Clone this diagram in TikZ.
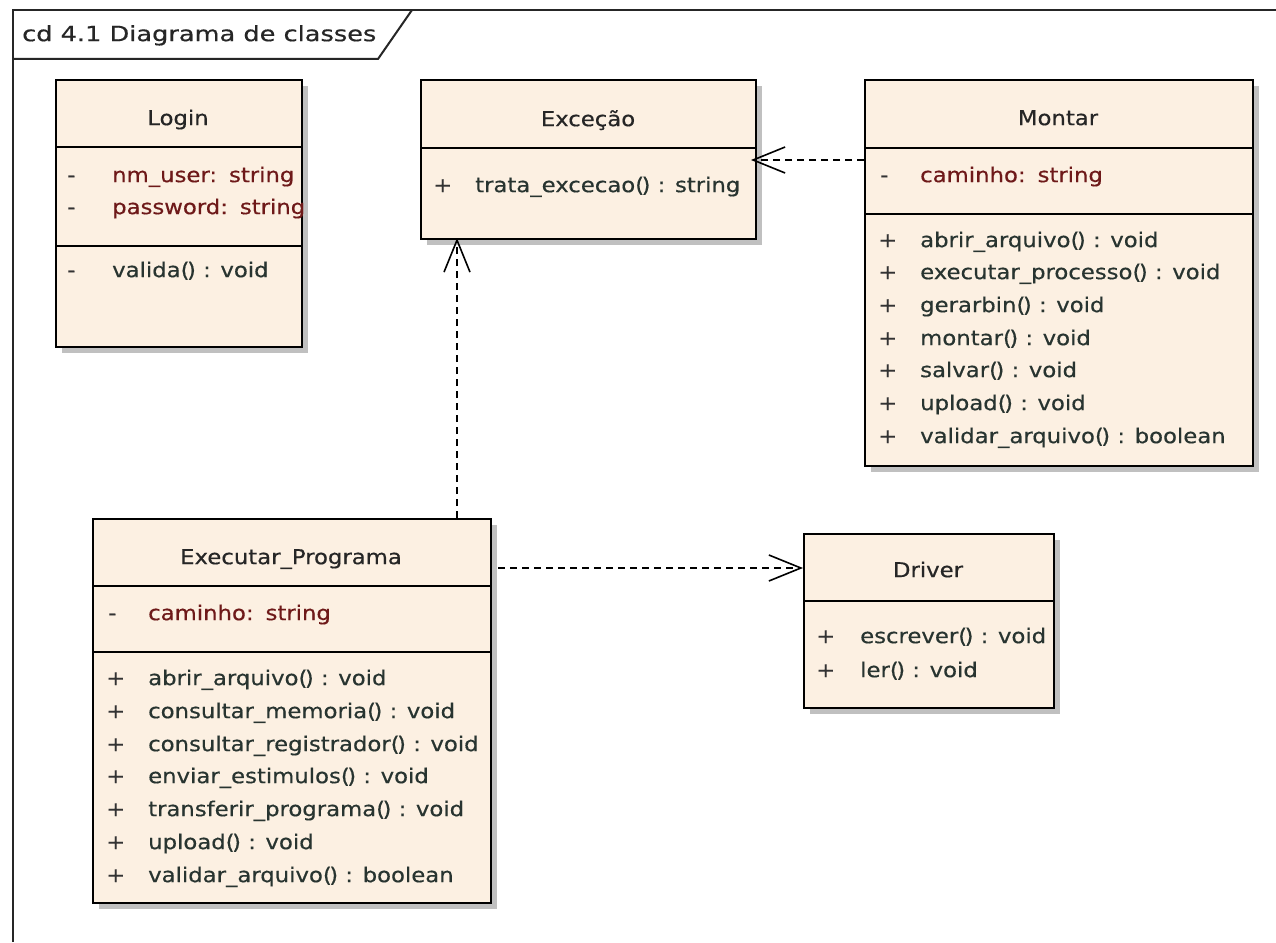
\documentclass[tikz,border=0pt]{standalone}
\usepackage{fontspec}
\usetikzlibrary{arrows.meta,shadows}
\newfontfamily\umlfont[FakeStretch=1.11,FakeBold=0.5]{DejaVu Sans}
\newfontfamily\umltitlefont[FakeStretch=1.22,FakeBold=0.5]{DejaVu Sans}
\newcommand{\pp}{(\kern-2.5pt)}
\newcommand{\csep}{:\hspace{12pt}}
\definecolor{umlfill}{RGB}{252,240,226}
\definecolor{umlshadow}{RGB}{192,192,192}
\definecolor{attrcol}{RGB}{110,25,25}
\definecolor{methcol}{RGB}{40,52,48}
\begin{document}
\begin{tikzpicture}[x=1pt,y=-1pt,
  every node/.style={font=\umlfont\fontsize{20.5}{24}\selectfont},
  cls/.style={draw=black, line width=2pt, fill=umlfill, anchor=north west, inner sep=0pt,
    drop shadow={shadow xshift=6pt, shadow yshift=-6pt, fill=umlshadow, opacity=1}},
  sep/.style={draw=black, line width=2pt},
  txt/.style={inner sep=0pt, yshift=-5pt},
  ttl/.style={txt, anchor=mid, text=black!85},
  vis/.style={txt, anchor=mid west, text=black!80},
  attr/.style={txt, anchor=mid west, text=attrcol},
  meth/.style={txt, anchor=mid west, text=methcol},
  dep/.style={draw=black, line width=1.6pt, dash pattern=on 7pt off 5pt,
    -{Straight Barb[length=32pt,width=26pt,line width=1.6pt]}},
  frameline/.style={draw=black!85, line width=2pt}
]
\useasboundingbox (0,0) rectangle (1276,942);
\fill[white] (0,0) rectangle (1276,942);

% frame
\draw[frameline] (13,942) -- (13,10) -- (1276,10);
\draw[frameline] (13,59) -- (378,59) -- (412,10);
\node[anchor=mid west, inner sep=0pt, yshift=-4pt, text=black!85, font=\umltitlefont\fontsize{21}{24}\selectfont] (frametitle) at (22,35) {cd 4.1 Diagrama de classes};

% Login
\node[cls, minimum width=246pt, minimum height=267pt] (login) at (55,79) {};
\draw[sep] (55,147) -- (301,147);
\draw[sep] (55,246) -- (301,246);
\node[ttl] (loginT) at (178,118) {Login};
\node[vis] (l1v) at (67,175) {-};
\node[attr] (l1) at (112,175) {nm\_user\csep string};
\node[vis] (l2v) at (67,207) {-};
\node[attr] (l2) at (112,207) {password\csep string};
\node[vis] (l3v) at (67,270) {-};
\node[meth] (l3) at (112,270) {valida\pp{} : void};

% Excecao
\node[cls, minimum width=335pt, minimum height=159pt] (exc) at (420,79) {};
\draw[sep] (420,148) -- (755,148);
\node[ttl] (excT) at (588,119) {Exceção};
\node[vis] (e1v) at (433,185) {+};
\node[meth] (e1) at (475,185) {trata\_excecao\pp{} : string};

% Montar
\node[cls, minimum width=388pt, minimum height=386pt] (montar) at (864,79) {};
\draw[sep] (864,148) -- (1252,148);
\draw[sep] (864,214) -- (1252,214);
\node[ttl] (montarT) at (1058,118) {Montar};
\node[vis] (m0v) at (880,175) {-};
\node[attr] (m0) at (920,175) {caminho\csep string};
\foreach \y/\t [count=\i] in {240/abrir\_arquivo\pp{} : void,
  272/executar\_processo\pp{} : void, 305/gerarbin\pp{} : void, 338/montar\pp{} : void,
  370/salvar\pp{} : void, 403/upload\pp{} : void, 436/validar\_arquivo\pp{} : boolean}{
  \node[vis] (m\i v) at (878,\y) {+};
  \node[meth] (m\i) at (920,\y) {\t};
}

% Executar_Programa
\node[cls, minimum width=398pt, minimum height=384pt] (exec) at (92,518) {};
\draw[sep] (92,586) -- (490,586);
\draw[sep] (92,652) -- (490,652);
\node[ttl] (execT) at (291,557) {Executar\_Programa};
\node[vis] (x0v) at (108,613) {-};
\node[attr] (x0) at (148,613) {caminho\csep string};
\foreach \y/\t [count=\i] in {678/abrir\_arquivo\pp{} : void,
  711/consultar\_memoria\pp{} : void, 744/consultar\_registrador\pp{} : void,
  776/enviar\_estimulos\pp{} : void, 809/transferir\_programa\pp{} : void,
  842/upload\pp{} : void, 875/validar\_arquivo\pp{} : boolean}{
  \node[vis] (x\i v) at (106,\y) {+};
  \node[meth] (x\i) at (148,\y) {\t};
}

% Driver
\node[cls, minimum width=250pt, minimum height=174pt] (driver) at (803,533) {};
\draw[sep] (803,601) -- (1053,601);
\node[ttl] (driverT) at (928,570) {Driver};
\node[vis] (d1v) at (816,636) {+};
\node[meth] (d1) at (860,636) {escrever\pp{} : void};
\node[vis] (d2v) at (816,670) {+};
\node[meth] (d2) at (860,670) {ler\pp{} : void};

% dependencies
\coordinate (cx) at (457,0);
\coordinate (cy1) at (0,160);
\coordinate (cy2) at (0,568);
\draw[dep, shorten >=-6pt] (montar.west |- cy1) -- (exc.east |- cy1);
\draw[dep, shorten >=-2pt] (cx |- exec.north) -- (cx |- exc.south);
\draw[dep, shorten <=6pt] (exec.east |- cy2) -- (driver.west |- cy2);
\end{tikzpicture}
\end{document}
